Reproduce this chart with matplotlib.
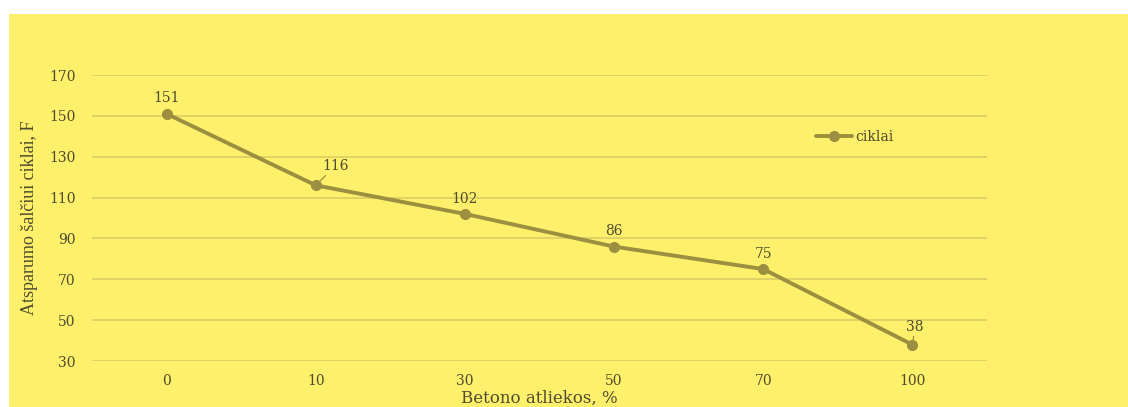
import matplotlib.pyplot as plt
from matplotlib.patches import Rectangle

categories = ["0", "10", "30", "50", "70", "100"]
ciklai = [151, 116, 102, 86, 75, 38]
y_ticks = [30, 50, 70, 90, 110, 130, 150, 170]

bg = "#FEF06B"
line_col = "#9C8F3F"
grid_col = "#D8CA62"
text_col = "#4F4B2E"

fig = plt.figure(figsize=(11.28, 4.07), dpi=100, facecolor="white")
fig.patches.append(Rectangle((0.008, 0), 0.992, 0.9656, transform=fig.transFigure,
                             facecolor=bg, edgecolor="none", zorder=-10))

ax = fig.add_axes([0.0816, 0.113, 0.7934, 0.7027])
ax.patch.set_alpha(0)

x = list(range(len(categories)))
ax.plot(x, ciklai, color=line_col, lw=2.8, marker="o", ms=7, label="ciklai",
        solid_capstyle="round", zorder=3)

ax.set_xlim(-0.5, len(categories) - 0.5)
ax.set_ylim(30, 170)
ax.set_yticks(y_ticks)
ax.set_xticks(x)
ax.set_xticklabels(categories)
ax.grid(axis="y", color=grid_col, lw=1.1)
ax.set_axisbelow(True)
for s in ax.spines.values():
    s.set_visible(False)
ax.tick_params(length=0, labelsize=10, labelcolor=text_col, pad=12)
ax.tick_params(axis="x", pad=9)
for t in ax.get_xticklabels() + ax.get_yticklabels():
    t.set_family("DejaVu Serif")

# value labels; 116 and 38 sit off the point with a short leader
offsets = {0: (0, 6), 1: (14, 9), 2: (0, 6), 3: (0, 6), 4: (0, 6), 5: (2, 8)}
for i, v in enumerate(ciklai):
    dx, dy = offsets[i]
    arrow = None
    if i in (1, 5):
        arrow = dict(arrowstyle="-", color=line_col, lw=0.9, shrinkA=0, shrinkB=3)
    ax.annotate(str(v), (i, v), xytext=(dx, dy), textcoords="offset points",
                ha="center", va="bottom", fontsize=10, family="DejaVu Serif",
                color=text_col, arrowprops=arrow)

ax.set_ylabel("Atsparumo šalčiui ciklai, F", family="Liberation Serif",
              fontsize=13, color=text_col, labelpad=8)
ax.set_xlabel("Betono atliekos, %", family="DejaVu Serif", fontsize=12,
              color=text_col, labelpad=2)

leg = ax.legend(loc="center left", bbox_to_anchor=(0.795, 0.783), frameon=False,
                handlelength=2.6, handletextpad=0.2, prop={"family": "DejaVu Serif", "size": 10})
for t in leg.get_texts():
    t.set_color(text_col)

fig.savefig("out.png", dpi=100, facecolor="white")
